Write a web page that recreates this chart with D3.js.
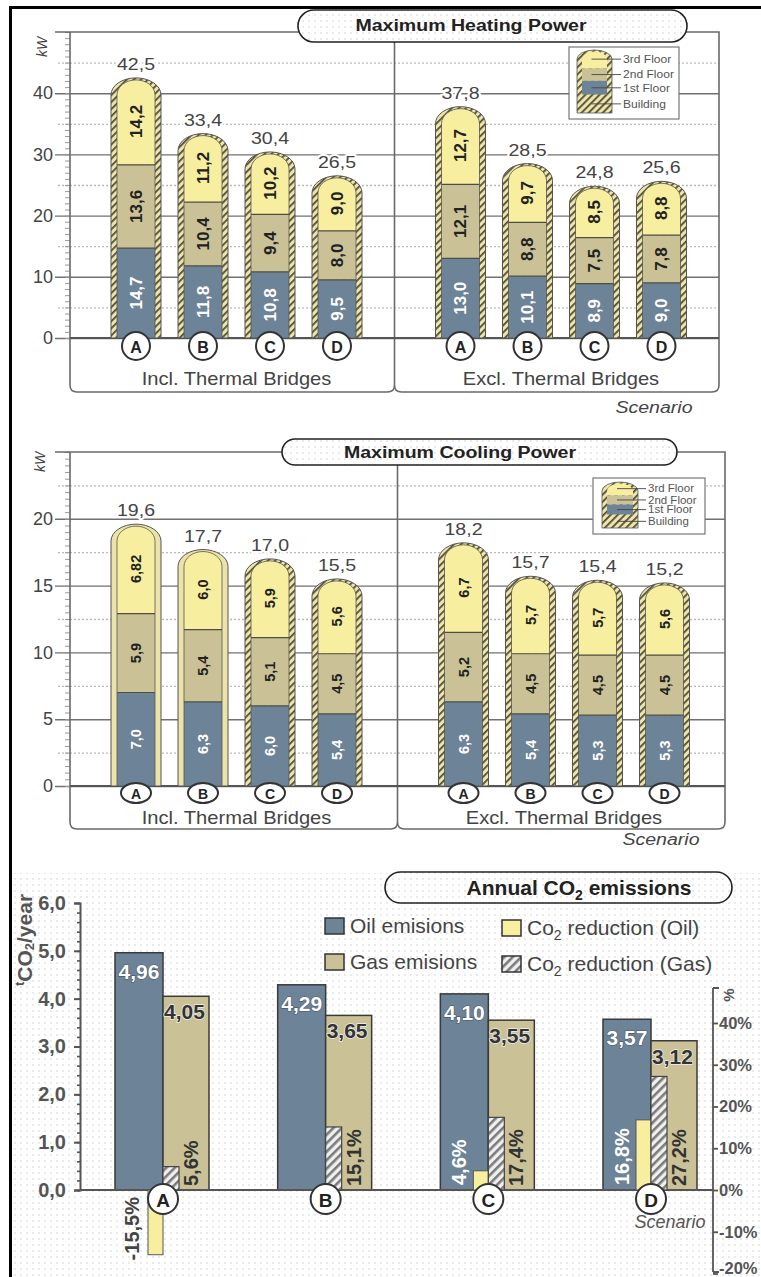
<!DOCTYPE html>
<html>
<head>
<meta charset="utf-8">
<script src="https://cdn.jsdelivr.net/npm/d3@7"></script>
<style>
  body { margin: 0; background: #fff; }
  svg text { font-family: "Liberation Sans", Arial, sans-serif; }
</style>
</head>
<body>
<svg id="chart" width="761" height="1277"></svg>
<script>
// ---- data ----
const scenarios = ["A", "B", "C", "D"];
const groups = ["Incl. Thermal Bridges", "Excl. Thermal Bridges"];

// heating power, kW (incl. A-D, then excl. A-D)
const heatFloor1 = [14.7, 11.8, 10.8, 9.5, 13.0, 10.1, 8.9, 9.0];
const heatFloor2 = [13.6, 10.4, 9.4, 8.0, 12.1, 8.8, 7.5, 7.8];
const heatFloor3 = [14.2, 11.2, 10.2, 9.0, 12.7, 9.7, 8.5, 8.8];
const heatTotal = [42.5, 33.4, 30.4, 26.5, 37.8, 28.5, 24.8, 25.6];
const heatTicks = [0, 10, 20, 30, 40];

// cooling power, kW
const coolFloor1 = [7.0, 6.3, 6.0, 5.4, 6.3, 5.4, 5.3, 5.3];
const coolFloor2 = [5.9, 5.4, 5.1, 4.5, 5.2, 4.5, 4.5, 4.5];
const coolFloor3 = [6.82, 6.0, 5.9, 5.6, 6.7, 5.7, 5.7, 5.6];
const coolTotal = [19.6, 17.7, 17.0, 15.5, 18.2, 15.7, 15.4, 15.2];
const coolTicks = [0, 5, 10, 15, 20];
const coolPlain = [true, true, false, false, false, false, false, false];

const floorNames = ["3rd Floor", "2nd Floor", "1st Floor", "Building"];

// annual CO2
const co2Oil = [4.96, 4.29, 4.10, 3.57];
const co2Gas = [4.05, 3.65, 3.55, 3.12];
const redOil = [-15.5, null, 4.6, 16.8];
const redGas = [5.6, 15.1, 17.4, 27.2];
const co2Ticks = [0, 1, 2, 3, 4, 5, 6];
const pctTicks = [-20, -10, 0, 10, 20, 30, 40];

const C = { blue: "#6d8397", olive: "#cac296", yellow: "#f7ee9f", line: "#4e4d45" };

const svg = d3.select("#chart");
const defs = svg.append("defs");

// rope-like hatch for the capsule walls
const rope = defs.append("pattern").attr("id", "rope").attr("patternUnits", "userSpaceOnUse")
  .attr("width", 5).attr("height", 5).attr("patternTransform", "rotate(45)");
rope.append("rect").attr("width", 5).attr("height", 5).attr("fill", "#efe5a4");
rope.append("rect").attr("width", 1.8).attr("height", 5).attr("fill", "#4f4d44");

const gh = defs.append("pattern").attr("id", "gasHatch").attr("patternUnits", "userSpaceOnUse")
  .attr("width", 6).attr("height", 6).attr("patternTransform", "rotate(45)");
gh.append("rect").attr("width", 6).attr("height", 6).attr("fill", "#f0f0f0");
gh.append("rect").attr("width", 2.6).attr("height", 6).attr("fill", "#7b7b7b");

const dots = defs.append("pattern").attr("id", "dots").attr("patternUnits", "userSpaceOnUse")
  .attr("width", 6).attr("height", 6);
dots.append("rect").attr("width", 6).attr("height", 6).attr("fill", "#fff");
dots.append("circle").attr("cx", 3).attr("cy", 3).attr("r", 0.7).attr("fill", "#c6c6c6");

const fmt = v => (Math.abs(v * 10 - Math.round(v * 10)) < 1e-6 ? v.toFixed(1) : v.toFixed(2)).replace(".", ",");

function txt(g, x, y, s, o = {}) {
  const tr = `translate(${x},${y})` + (o.sx ? ` scale(${o.sx},1)` : "") + (o.rot ? ` rotate(${o.rot})` : "");
  const t = g.append("text").attr("transform", tr)
    .attr("text-anchor", o.anchor || "middle")
    .attr("dominant-baseline", o.base || "alphabetic")
    .attr("font-size", o.size || 14)
    .attr("font-weight", o.bold ? "bold" : null)
    .attr("font-style", o.italic ? "italic" : null)
    .attr("fill", o.fill || "#444")
    .text(s);
  if (o.halo) t.attr("stroke", o.halo).attr("stroke-width", o.haloW || 3)
    .attr("stroke-linejoin", "round").attr("paint-order", "stroke");
  return t;
}

function capsule(cx, top, bottom, hw, ry) {
  return `M${cx - hw},${bottom} V${top + ry} A${hw},${ry} 0 0 1 ${cx + hw},${top + ry} V${bottom} Z`;
}

function pill(g, x, y, w, h) {
  g.append("rect").attr("x", x).attr("y", y).attr("width", w).attr("height", h)
    .attr("rx", h / 2).attr("fill", "url(#dots)").attr("stroke", "#222").attr("stroke-width", 1.6);
}

// outer frame
svg.append("path").attr("d", "M10.5,1277 V7.5 H761").attr("fill", "none")
  .attr("stroke", "#000").attr("stroke-width", 3);

// ---- the two kW panels ----
function kwPanel(p) {
  const g = svg.append("g");
  const y = d3.scaleLinear().domain([0, p.max]).range([p.y0, p.top]);
  const x0 = d3.scaleBand().domain(groups).range([p.left, p.right]);
  const mid = x0(groups[1]);
  const xs = groups.map(gr => d3.scalePoint().domain(scenarios).range([x0(gr) + 66, x0(gr) + 267]));
  const cx = i => xs[Math.floor(i / 4)](scenarios[i % 4]);
  const w = p.right - p.left;

  // gridlines
  const minor = d3.range(p.major / 2, p.max, p.major);
  g.append("g").attr("transform", `translate(${p.left},0)`)
    .call(d3.axisLeft(y).tickValues(minor).tickSize(-w).tickFormat(""))
    .call(a => a.select(".domain").remove())
    .selectAll("line").attr("x1", -12).attr("stroke", "#b9b9b9").attr("stroke-width", 1.3)
    .attr("stroke-dasharray", "2,2");
  g.append("g").attr("transform", `translate(${p.left},0)`)
    .call(d3.axisLeft(y).tickValues(p.ticks).tickSize(-w).tickFormat(""))
    .call(a => a.select(".domain").remove())
    .selectAll("line").attr("x1", -15).attr("stroke", "#707070").attr("stroke-width", 1.4);
  // ruler ticks
  g.append("g").attr("transform", `translate(${p.left},0)`)
    .call(d3.axisLeft(y).tickValues(d3.range(0, p.max + 1e-6, p.ruler)).tickSize(5).tickFormat(""))
    .call(a => a.select(".domain").remove())
    .selectAll("line").attr("stroke", "#9a9a9a");
  // tick labels
  g.append("g").attr("transform", `translate(${p.left},0)`)
    .call(d3.axisLeft(y).tickValues(p.ticks).tickSize(0).tickPadding(17).tickFormat(d3.format("d")))
    .call(a => a.select(".domain").remove())
    .selectAll("text").attr("font-size", 18).attr("fill", "#444");

  // frame and bracket
  const r = 7, b = p.bottom;
  g.append("path").attr("d",
    `M${p.left - 15},${p.top} H${p.right} V${b - r} Q${p.right},${b} ${p.right - r},${b} H${mid + r} ` +
    `Q${mid},${b} ${mid},${b - r} Q${mid},${b} ${mid - r},${b} H${p.left + r} Q${p.left},${b} ${p.left},${b - r} V${p.top}`)
    .attr("fill", "none").attr("stroke", "#6a6a6a").attr("stroke-width", 1.6);
  g.append("line").attr("x1", mid).attr("x2", mid).attr("y1", p.top).attr("y2", b - r)
    .attr("stroke", "#6a6a6a").attr("stroke-width", 1.6);
  g.append("line").attr("x1", p.left).attr("x2", p.right).attr("y1", p.y0).attr("y2", p.y0)
    .attr("stroke", "#555").attr("stroke-width", 1.8);

  // columns
  d3.range(8).forEach(i => {
    const c = cx(i), tot = p.total[i], t = y(tot), bt = p.y0;
    const f1 = p.f1[i], f2 = p.f2[i];
    const col = g.append("g");
    col.append("path").attr("d", capsule(c, t, bt, 25, 17))
      .attr("fill", p.plain && p.plain[i] ? "#ece3a8" : "url(#rope)")
      .attr("stroke", "#555").attr("stroke-width", 1);
    const cid = `clip-${p.id}-${i}`;
    defs.append("clipPath").attr("id", cid).append("path").attr("d", capsule(c, t + 2, bt, 19, 15));
    const inner = col.append("g").attr("clip-path", `url(#${cid})`);
    const segs = [[0, f1, C.blue], [f1, f1 + f2, C.olive], [f1 + f2, tot + 5, C.yellow]];
    inner.selectAll("rect").data(segs).join("rect")
      .attr("x", c - 19).attr("width", 38)
      .attr("y", d => y(d[1])).attr("height", d => y(d[0]) - y(d[1]))
      .attr("fill", d => d[2]);
    [f1, f1 + f2].forEach(v => inner.append("line")
      .attr("x1", c - 19).attr("x2", c + 19).attr("y1", y(v)).attr("y2", y(v))
      .attr("stroke", C.line).attr("stroke-width", 1.2));
    col.append("path").attr("d", capsule(c, t + 2, bt, 19, 15))
      .attr("fill", "none").attr("stroke", "#555").attr("stroke-width", 0.8);

    txt(col, c, y(f1 / 2), fmt(f1), { rot: -90, size: p.segSize, bold: true, fill: "#fff", base: "central" });
    txt(col, c, y(f1 + f2 / 2), fmt(f2), { rot: -90, size: p.segSize, bold: true, fill: "#222", base: "central" });
    txt(col, c, (y(f1 + f2) + t) / 2, fmt(p.f3[i]), { rot: -90, size: p.segSize, bold: true, fill: "#222", base: "central" });
    txt(col, c, t - 8, fmt(tot), { size: 17, sx: 1.15, fill: "#444", halo: "#fff", haloW: 4 });

    // scenario marker
    const m = p.marker;
    col.append("ellipse").attr("cx", c).attr("cy", p.y0 + m.dy).attr("rx", m.rx).attr("ry", m.ry)
      .attr("fill", "#fff").attr("stroke", "#333").attr("stroke-width", 2);
    txt(col, c, p.y0 + m.dy + 1, scenarios[i % 4], { size: m.size, bold: true, fill: "#222", base: "central" });
  });

  // group labels, axis captions
  groups.forEach((gr, k) => {
    const r0 = xs[k].range();
    txt(g, (r0[0] + r0[1]) / 2, p.groupY, gr, { size: 17.5, sx: 1.15, fill: "#444" });
  });
  txt(g, p.scen[0], p.scen[1], "Scenario", { size: 17, sx: 1.15, italic: true, fill: "#444" });
  txt(g, p.kw[0], p.kw[1], "kW", { size: 14, italic: true, rot: -90, fill: "#444", base: "central" });

  // title pill
  pill(g, ...p.pill);
  txt(g, p.titleX, p.titleY, p.title, { size: 17, sx: 1.15, bold: true, fill: "#222" });

  // legend
  const L = p.legend;
  g.append("rect").attr("x", L.x).attr("y", L.y).attr("width", L.w).attr("height", L.h)
    .attr("fill", "#fff").attr("stroke", "#777").attr("stroke-width", 1.2);
  const [lx, ly, lw, lh] = L.cap;
  const lc = lx + lw / 2, lhw = lw / 2, stops = [0, 0.29, 0.49, 0.71, 1].map(f => ly + f * lh);
  g.append("path").attr("d", capsule(lc, ly, ly + lh, lhw, 9)).attr("fill", "url(#rope)")
    .attr("stroke", "#555").attr("stroke-width", 0.8);
  const lcid = `clip-${p.id}-legend`;
  defs.append("clipPath").attr("id", lcid).append("path").attr("d", capsule(lc, ly + 1.5, stops[3], lhw - 5, 8));
  const li = g.append("g").attr("clip-path", `url(#${lcid})`);
  [C.yellow, C.olive, C.blue].forEach((col, k) => li.append("rect")
    .attr("x", lc - lhw).attr("width", lw).attr("y", stops[k]).attr("height", stops[k + 1] - stops[k])
    .attr("fill", col));
  floorNames.forEach((nm, k) => {
    const yy = (stops[k] + stops[k + 1]) / 2;
    g.append("line").attr("x1", lc - 3).attr("x2", L.lx - 2).attr("y1", yy).attr("y2", yy)
      .attr("stroke", "#444").attr("stroke-width", 0.9);
    txt(g, L.lx, yy, nm, { size: L.size, sx: 1.15, anchor: "start", base: "central", fill: "#555" });
  });
}

kwPanel({
  id: "heat", title: "Maximum Heating Power", pill: [298, 10, 389, 32], titleX: 471, titleY: 31,
  left: 70, right: 719, top: 32, y0: 338, bottom: 392, max: 50, major: 10, ruler: 1, ticks: heatTicks,
  f1: heatFloor1, f2: heatFloor2, f3: heatFloor3, total: heatTotal, segSize: 17,
  marker: { dy: 8, rx: 14, ry: 14, size: 16 }, groupY: 385, scen: [654, 413], kw: [42, 47],
  legend: { x: 569, y: 47, w: 110, h: 72, cap: [577, 50, 35, 63], lx: 623, size: 10.5 }
});

kwPanel({
  id: "cool", title: "Maximum Cooling Power", pill: [282, 439, 395, 26], titleX: 460, titleY: 458,
  left: 70, right: 725, top: 452, y0: 786, bottom: 829, max: 25, major: 5, ruler: 0.5, ticks: coolTicks,
  f1: coolFloor1, f2: coolFloor2, f3: coolFloor3, total: coolTotal, segSize: 14.5, plain: coolPlain,
  marker: { dy: 7, rx: 15, ry: 10, size: 14 }, groupY: 824, scen: [661, 845], kw: [40, 462],
  legend: { x: 593, y: 478, w: 112, h: 56, cap: [602, 482, 36, 46], lx: 648, size: 10 }
});

// ---- annual CO2 panel ----
const g3 = svg.append("g");
g3.append("rect").attr("x", 12).attr("y", 873).attr("width", 749).attr("height", 404).attr("fill", "url(#dots)");

const yL = d3.scaleLinear().domain([0, 6]).range([1190, 903]);
const yR = d3.scaleLinear().domain([0, 40]).range([1190, 1023]);
const xB = d3.scalePoint().domain(scenarios).range([163, 651]);

// left axis
g3.append("g").attr("transform", "translate(80,0)")
  .call(d3.axisLeft(yL).tickValues(d3.range(0, 6.01, 0.2)).tickSize(3).tickFormat(""))
  .call(a => a.select(".domain").remove())
  .selectAll("line").attr("stroke", "#555").attr("stroke-width", 1.6);
g3.append("g").attr("transform", "translate(80,0)")
  .call(d3.axisLeft(yL).tickValues(co2Ticks).tickSize(6).tickPadding(8)
    .tickFormat(v => d3.format(".1f")(v).replace(".", ",")))
  .call(a => a.select(".domain").attr("stroke", "#555").attr("stroke-width", 2))
  .call(a => a.selectAll("line").attr("stroke", "#555").attr("stroke-width", 2))
  .selectAll("text").attr("font-size", 20).attr("font-weight", "bold").attr("fill", "#555");

const yTitle = g3.append("text").attr("transform", "translate(24,940) rotate(-90)")
  .attr("text-anchor", "middle").attr("dominant-baseline", "central")
  .attr("font-size", 21).attr("font-weight", "bold").attr("fill", "#555");
yTitle.append("tspan").attr("font-size", 13).attr("dy", -5).text("t");
yTitle.append("tspan").attr("dy", 5).text("CO");
yTitle.append("tspan").attr("font-size", 13).attr("dy", 5).text("2");
yTitle.append("tspan").attr("dy", -5).text("/year");

// right axis
g3.append("line").attr("x1", 713).attr("x2", 713).attr("y1", 988).attr("y2", 1272)
  .attr("stroke", "#555").attr("stroke-width", 1.8);
g3.append("g").attr("transform", "translate(713,0)")
  .call(d3.axisRight(yR).tickValues(pctTicks).tickSize(5).tickPadding(1).tickFormat(v => v + "%"))
  .call(a => a.select(".domain").remove())
  .call(a => a.selectAll("line").attr("stroke", "#555").attr("stroke-width", 1.8))
  .selectAll("text").attr("font-size", 16.5).attr("font-weight", "bold").attr("fill", "#555")
  .filter(d => d === -20).attr("dy", "0.02em");
g3.append("path").attr("d", "M719,988 H713 M713,1272 H719").attr("stroke", "#555").attr("stroke-width", 1.8);
txt(g3, 728, 995, "%", { size: 15, bold: true, rot: -90, base: "central", fill: "#555" });

// bars
scenarios.forEach((s, i) => {
  const b = xB(s);
  g3.append("rect").attr("x", b - 48).attr("width", 48).attr("y", yL(co2Oil[i])).attr("height", yL(0) - yL(co2Oil[i]))
    .attr("fill", C.blue).attr("stroke", "#3a3a3a").attr("stroke-width", 1.5);
  g3.append("rect").attr("x", b).attr("width", 46).attr("y", yL(co2Gas[i])).attr("height", yL(0) - yL(co2Gas[i]))
    .attr("fill", C.olive).attr("stroke", "#3a3a3a").attr("stroke-width", 1.5);
});

g3.append("line").attr("x1", 80).attr("x2", 713).attr("y1", 1190).attr("y2", 1190)
  .attr("stroke", "#555").attr("stroke-width", 2);

scenarios.forEach((s, i) => {
  const b = xB(s);
  if (redOil[i] !== null) {
    const v = redOil[i];
    g3.append("rect").attr("x", b - 15).attr("width", 15)
      .attr("y", Math.min(yR(v), yR(0))).attr("height", Math.abs(yR(v) - yR(0)))
      .attr("fill", C.yellow).attr("stroke", "#555").attr("stroke-width", 1);
    const lab = fmt(v) + "%";
    if (v < 0) txt(g3, b - 31, 1197, lab, { rot: -90, size: 20, bold: true, anchor: "end", base: "central", fill: "#444" });
    else txt(g3, b - 29, 1185, lab, { rot: -90, size: 20, bold: true, anchor: "start", base: "central", fill: "#fff" });
  }
  const vg = redGas[i];
  g3.append("rect").attr("x", b).attr("width", 16).attr("y", yR(vg)).attr("height", yR(0) - yR(vg))
    .attr("fill", "url(#gasHatch)").attr("stroke", "#444").attr("stroke-width", 1.2);
  txt(g3, b + 28, 1186, fmt(vg) + "%", { rot: -90, size: 20, bold: true, anchor: "start", base: "central", fill: "#333" });

  txt(g3, b - 24, yL(co2Oil[i]) + 26, co2Oil[i].toFixed(2).replace(".", ","),
    { size: 21, bold: true, fill: "#fff", halo: "#4a5868", haloW: 1.2 });
  txt(g3, b + 1, yL(co2Gas[i]) + 23, co2Gas[i].toFixed(2).replace(".", ","),
    { size: 21, bold: true, anchor: "start", fill: "#333", halo: "#eee", haloW: 1.5 });

  g3.append("circle").attr("cx", b).attr("cy", 1199).attr("r", 15)
    .attr("fill", "#fff").attr("stroke", "#333").attr("stroke-width", 2);
  txt(g3, b, 1200, s, { size: 19, bold: true, base: "central", fill: "#222" });
});

txt(g3, 670, 1228, "Scenario", { size: 18, italic: true, fill: "#555" });

// title
pill(g3, 385, 872, 347, 31);
const t3 = g3.append("text").attr("x", 579).attr("y", 895).attr("text-anchor", "middle")
  .attr("font-size", 21).attr("font-weight", "bold").attr("fill", "#222");
t3.append("tspan").text("Annual CO");
t3.append("tspan").attr("font-size", 14).attr("dy", 5).text("2");
t3.append("tspan").attr("dy", -5).text(" emissions");

// legend
const legendItems = [
  { x: 325, y: 918, fill: C.blue, parts: ["Oil emisions"] },
  { x: 325, y: 954, fill: C.olive, parts: ["Gas emisions"] },
  { x: 502, y: 920, fill: C.yellow, parts: ["Co", "2", " reduction (Oil)"] },
  { x: 502, y: 956, fill: "url(#gasHatch)", parts: ["Co", "2", " reduction (Gas)"] }
];
legendItems.forEach(d => {
  g3.append("rect").attr("x", d.x).attr("y", d.y).attr("width", 19).attr("height", 16)
    .attr("fill", d.fill).attr("stroke", "#333").attr("stroke-width", 1.5);
  const t = g3.append("text").attr("x", d.x + 25).attr("y", d.y + 15)
    .attr("font-size", 21).attr("fill", "#444");
  t.append("tspan").text(d.parts[0]);
  if (d.parts.length > 1) {
    t.append("tspan").attr("font-size", 14).attr("dy", 5).text(d.parts[1]);
    t.append("tspan").attr("dy", -5).text(d.parts[2]);
  }
});
</script>
</body>
</html>
